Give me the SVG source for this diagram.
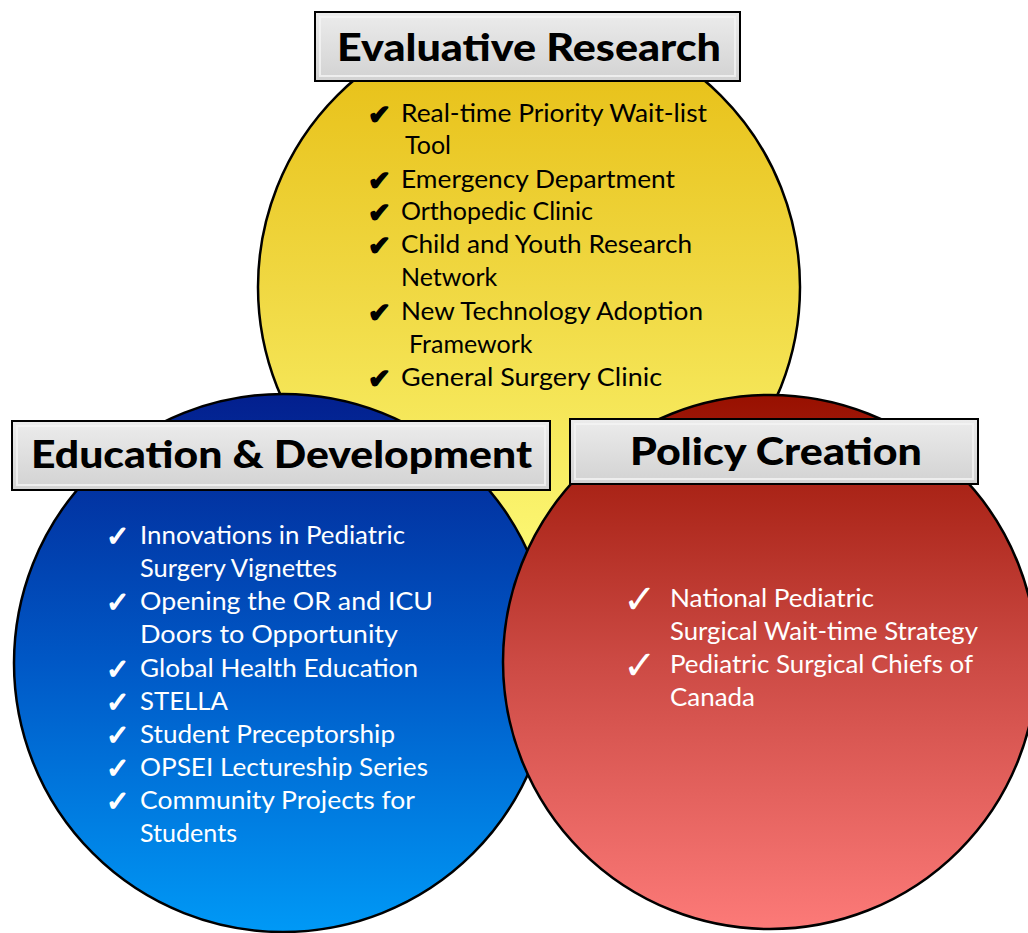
<svg xmlns="http://www.w3.org/2000/svg" width="1028" height="933" viewBox="0 0 1028 933">
<defs>
<linearGradient id="gY" x1="0" y1="0" x2="0" y2="1">
<stop offset="0" stop-color="#e6bc10"/>
<stop offset="0.5" stop-color="#f0d842"/>
<stop offset="1" stop-color="#fcf874"/>
</linearGradient>
<linearGradient id="gB" x1="0" y1="0" x2="0" y2="1">
<stop offset="0" stop-color="#031f8e"/>
<stop offset="0.5" stop-color="#0058c6"/>
<stop offset="1" stop-color="#0099f6"/>
</linearGradient>
<linearGradient id="gR" x1="0" y1="0" x2="0" y2="1">
<stop offset="0" stop-color="#981000"/>
<stop offset="0.5" stop-color="#cc4a44"/>
<stop offset="1" stop-color="#fc7a78"/>
</linearGradient>
<linearGradient id="gBox" x1="0" y1="0" x2="0" y2="1">
<stop offset="0" stop-color="#ececec"/>
<stop offset="1" stop-color="#d2d2d2"/>
</linearGradient>
</defs>
<style>
.circ{stroke:#000;stroke-width:2.5}
.box{fill:url(#gBox);stroke:#000;stroke-width:2}
.inner{fill:none;stroke:#f4f4f4;stroke-width:2;opacity:0.8}
.title{font-family:Lato,"Liberation Sans",sans-serif;font-weight:900;font-size:37px;fill:#000}
.item{font-family:Lato,"Liberation Sans",sans-serif;font-size:25px}
.dark{fill:#000}
.light{fill:#fff}
.chkY{font-family:"DejaVu Sans",sans-serif;font-size:27px;stroke:#000;stroke-width:1.6;stroke-linejoin:round}
.chkB{font-family:"DejaVu Sans",sans-serif;font-size:28px;stroke:#fff;stroke-width:1.4;stroke-linejoin:round}
.chkR{font-family:"DejaVu Sans",sans-serif;font-size:40px}
</style>
<rect width="1028" height="933" fill="#fff"/>
<g id="connectors"/>
<g id="node-research">
<circle class="circ" cx="529" cy="287" r="271" fill="url(#gY)"/>
<rect class="box" x="315" y="12" width="425" height="69"/>
<rect class="inner" x="320" y="17" width="415" height="59"/>
<text class="title" x="337" y="61" textLength="384" lengthAdjust="spacingAndGlyphs">Evaluative Research</text>
<g class="chkY dark">
<text x="368" y="124">✔</text>
<text x="368" y="190">✔</text>
<text x="368" y="222">✔</text>
<text x="368" y="255">✔</text>
<text x="368" y="322">✔</text>
<text x="368" y="388">✔</text>
</g>
<g class="item dark">
<text x="401" y="122" textLength="306" lengthAdjust="spacingAndGlyphs">Real-time Priority Wait-list</text>
<text x="405" y="154">Tool</text>
<text x="401" y="188" textLength="274" lengthAdjust="spacingAndGlyphs">Emergency Department</text>
<text x="401" y="220">Orthopedic Clinic</text>
<text x="401" y="253" textLength="291" lengthAdjust="spacingAndGlyphs">Child and Youth Research</text>
<text x="401" y="286">Network</text>
<text x="401" y="320" textLength="302" lengthAdjust="spacingAndGlyphs">New Technology Adoption</text>
<text x="409" y="353">Framework</text>
<text x="401" y="386" textLength="261" lengthAdjust="spacingAndGlyphs">General Surgery Clinic</text>
</g>
</g>
<g id="node-education">
<circle class="circ" cx="283" cy="663" r="269" fill="url(#gB)"/>
<rect class="box" x="12" y="421" width="538" height="69"/>
<rect class="inner" x="17" y="426" width="528" height="59"/>
<text class="title" x="31" y="468" textLength="501" lengthAdjust="spacingAndGlyphs">Education &amp; Development</text>
<g class="chkB light">
<text x="106" y="546">✓</text>
<text x="106" y="612">✓</text>
<text x="106" y="679">✓</text>
<text x="106" y="712">✓</text>
<text x="106" y="745">✓</text>
<text x="106" y="778">✓</text>
<text x="106" y="811">✓</text>
</g>
<g class="item light">
<text x="140" y="544" textLength="265" lengthAdjust="spacingAndGlyphs">Innovations in Pediatric</text>
<text x="140" y="577" textLength="197" lengthAdjust="spacingAndGlyphs">Surgery Vignettes</text>
<text x="140" y="610" textLength="293" lengthAdjust="spacingAndGlyphs">Opening the OR and ICU</text>
<text x="140" y="643" textLength="258" lengthAdjust="spacingAndGlyphs">Doors to Opportunity</text>
<text x="140" y="677" textLength="278" lengthAdjust="spacingAndGlyphs">Global Health Education</text>
<text x="140" y="710" textLength="88" lengthAdjust="spacingAndGlyphs">STELLA</text>
<text x="140" y="743" textLength="255" lengthAdjust="spacingAndGlyphs">Student Preceptorship</text>
<text x="140" y="776" textLength="288" lengthAdjust="spacingAndGlyphs">OPSEI Lectureship Series</text>
<text x="140" y="809" textLength="275" lengthAdjust="spacingAndGlyphs">Community Projects for</text>
<text x="140" y="842" textLength="97" lengthAdjust="spacingAndGlyphs">Students</text>
</g>
</g>
<g id="node-policy">
<circle class="circ" cx="770" cy="662" r="267" fill="url(#gR)"/>
<rect class="box" x="570" y="419" width="408" height="65"/>
<rect class="inner" x="575" y="424" width="398" height="55"/>
<text class="title" x="630" y="465" textLength="292" lengthAdjust="spacingAndGlyphs">Policy Creation</text>
<g class="chkR light">
<text x="623" y="613">✓</text>
<text x="623" y="679">✓</text>
</g>
<g class="item light">
<text x="670" y="607" textLength="204" lengthAdjust="spacingAndGlyphs">National Pediatric</text>
<text x="670" y="640" textLength="308" lengthAdjust="spacingAndGlyphs">Surgical Wait-time Strategy</text>
<text x="670" y="673" textLength="303" lengthAdjust="spacingAndGlyphs">Pediatric Surgical Chiefs of</text>
<text x="670" y="706" textLength="85" lengthAdjust="spacingAndGlyphs">Canada</text>
</g>
</g>
</svg>
